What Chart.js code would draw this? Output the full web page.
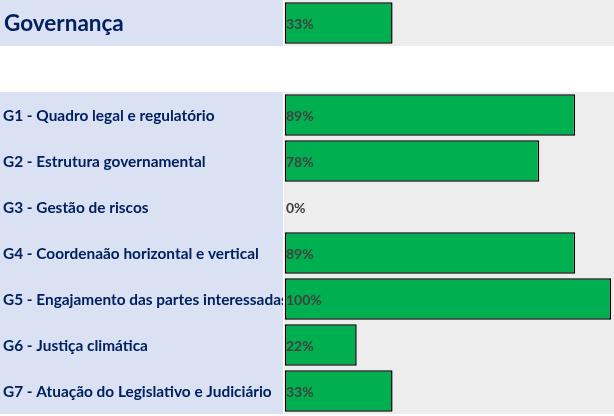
<!DOCTYPE html>
<html>
<head>
<meta charset="utf-8">
<script src="https://cdn.jsdelivr.net/npm/chart.js@4"></script>
<style>
  html, body { margin: 0; padding: 0; background: #ffffff; }
  #wrap { width: 614px; height: 416px; position: relative; }
</style>
</head>
<body>
<div id="wrap"><canvas id="chart"></canvas></div>
<script>
// --- DADOS ---
const SECTION_TITLE = 'Governança';
const SECTION_VALUE = 33;

const ITEM_LABELS = [
    'G1 - Quadro legal e regulatório',
    'G2 - Estrutura governamental',
    'G3 - Gestão de riscos',
    'G4 - Coordenaão horizontal e vertical',
    'G5 - Engajamento das partes interessadas',
    'G6 - Justiça climática',
    'G7 - Atuação do Legislativo e Judiciário'
];
const ITEM_VALUES = [89, 78, 0, 89, 100, 22, 33];

// linha vazia entre o título e os itens
const CATEGORIES = [SECTION_TITLE, ''].concat(ITEM_LABELS);
const VALUES = [SECTION_VALUE, null].concat(ITEM_VALUES);

// --- CORES ---
const LABEL_BG = '#d9e1f2';
const BAR_BG = '#ededed';
const BAR_GREEN = '#00b050';
const TEXT_BLUE = '#002060';
const VALUE_GREY = '#404040';

// fundo das linhas (coluna azul + faixa cinza)
const rowBackground = {
    id: 'rowBackground',
    beforeDraw(chart) {
        const { ctx, chartArea, scales } = chart;
        const y = scales.y;
        const step = Math.abs(y.getPixelForValue(1) - y.getPixelForValue(0));
        ctx.save();
        CATEGORIES.forEach((cat, i) => {
            if (VALUES[i] === null) return;
            const cy = y.getPixelForValue(i);
            const top = Math.round(cy - step / 2);
            ctx.fillStyle = LABEL_BG;
            ctx.fillRect(0, top, chartArea.left - 2, step);
            ctx.fillStyle = BAR_BG;
            ctx.fillRect(chartArea.left - 1, top, chart.width - chartArea.left + 1, step);
        });
        ctx.restore();
    }
};

// textos: rótulos à esquerda e percentuais no início das barras
const rowText = {
    id: 'rowText',
    afterDatasetsDraw(chart) {
        const { ctx, chartArea, scales } = chart;
        const y = scales.y;
        const step = Math.abs(y.getPixelForValue(1) - y.getPixelForValue(0));
        ctx.save();
        ctx.textBaseline = 'middle';
        ctx.textAlign = 'left';
        CATEGORIES.forEach((cat, i) => {
            if (VALUES[i] === null) return;
            const cy = y.getPixelForValue(i);
            // rótulo (cortado na borda da coluna)
            ctx.save();
            ctx.beginPath();
            ctx.rect(0, cy - step / 2, chartArea.left - 2, step);
            ctx.clip();
            ctx.fillStyle = TEXT_BLUE;
            if (i === 0) {
                ctx.font = 'bold 22.5px Lato';
                ctx.fillText(cat, 4, cy + 1);
            } else {
                ctx.font = 'bold 15.4px Lato';
                ctx.fillText(cat, 3, cy + 1);
            }
            ctx.restore();
            // percentual
            ctx.font = 'bold 14px Lato';
            ctx.fillStyle = VALUE_GREY;
            ctx.fillText(VALUES[i] + '%', scales.x.getPixelForValue(0) + 1, cy + 1);
        });
        ctx.restore();
    }
};

new Chart(document.getElementById('chart'), {
    type: 'bar',
    data: {
        labels: CATEGORIES,
        datasets: [{
            data: VALUES,
            backgroundColor: BAR_GREEN,
            borderColor: '#000000',
            borderWidth: 1.5,
            borderSkipped: false,
            barPercentage: 0.9,
            categoryPercentage: 1.0
        }]
    },
    options: {
        indexAxis: 'y',
        responsive: true,
        maintainAspectRatio: false,
        animation: false,
        layout: { padding: { left: 285, right: 3, top: 0, bottom: 2 } },
        scales: {
            x: { display: false, min: 0, max: 100 },
            y: { display: false }
        },
        plugins: {
            legend: { display: false },
            tooltip: { enabled: false }
        }
    },
    plugins: [rowBackground, rowText]
});
</script>
</body>
</html>
